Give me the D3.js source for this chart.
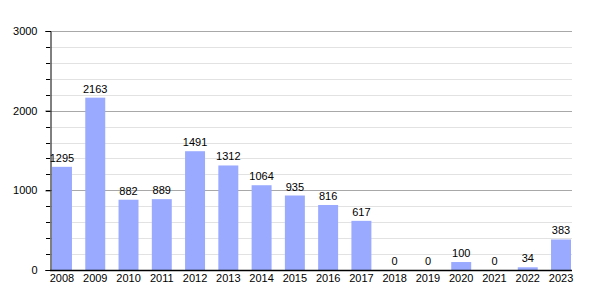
<!DOCTYPE html>
<html>
<head>
<meta charset="utf-8">
<script src="https://cdn.jsdelivr.net/npm/d3@7"></script>
<style>
  body { margin: 0; background: #fff; }
  text { font-family: "Liberation Sans", Arial, sans-serif; font-size: 11px; fill: #000; }
</style>
</head>
<body>
<svg width="600" height="300"></svg>
<script>
var years = ["2008", "2009", "2010", "2011", "2012", "2013", "2014", "2015",
             "2016", "2017", "2018", "2019", "2020", "2021", "2022", "2023"];
var counts = [1295, 2163, 882, 889, 1491, 1312, 1064, 935, 816, 617, 0, 0, 100, 0, 34, 383];
var majorTicks = [0, 1000, 2000, 3000];
var minorTicks = d3.range(0, 3001, 200);

var svg = d3.select("svg");

var x = d3.scaleBand()
    .domain(years)
    .range([52, 571])
    .paddingInner(0.4)
    .paddingOuter(0);

var y = d3.scaleLinear()
    .domain([0, 3000])
    .range([270, 31]);

// minor grid
svg.append("g")
    .selectAll("line")
    .data(minorTicks.filter(function(d) { return d % 1000 !== 0; }))
    .enter().append("line")
    .attr("x1", 50).attr("x2", 572)
    .attr("y1", function(d) { return Math.round(y(d)) + 0.5; })
    .attr("y2", function(d) { return Math.round(y(d)) + 0.5; })
    .attr("stroke", "#e2e2e2");

// major grid
svg.append("g")
    .selectAll("line")
    .data(majorTicks.filter(function(d) { return d > 0; }))
    .enter().append("line")
    .attr("x1", 50).attr("x2", 572)
    .attr("y1", function(d) { return Math.round(y(d)) + 0.5; })
    .attr("y2", function(d) { return Math.round(y(d)) + 0.5; })
    .attr("stroke", "#a8a8a8");

// bars
svg.append("g")
    .selectAll("rect")
    .data(counts)
    .enter().append("rect")
    .attr("x", function(d, i) { return x(years[i]); })
    .attr("width", x.bandwidth())
    .attr("y", function(d) { return y(d); })
    .attr("height", function(d) { return y(0) - y(d); })
    .attr("fill", "#99aaff");

// value labels
svg.append("g")
    .selectAll("text")
    .data(counts)
    .enter().append("text")
    .attr("x", function(d, i) { return x(years[i]) + x.bandwidth() / 2; })
    .attr("y", function(d) { return y(d) - 5; })
    .attr("text-anchor", "middle")
    .text(function(d) { return d; });

// y axis
var yAxis = svg.append("g")
    .attr("transform", "translate(50.5,0)")
    .call(d3.axisLeft(y).tickValues(majorTicks).tickFormat(d3.format("d")).tickSize(5).tickPadding(8));
yAxis.select(".domain").attr("stroke", "#000");
yAxis.selectAll(".tick line").attr("stroke", "#000");
yAxis.selectAll("text").attr("font-size", 11).attr("font-family", "Liberation Sans, Arial, sans-serif");

svg.append("g")
    .selectAll("line")
    .data(minorTicks)
    .enter().append("line")
    .attr("x1", 46).attr("x2", 50)
    .attr("y1", function(d) { return Math.round(y(d)) + 0.5; })
    .attr("y2", function(d) { return Math.round(y(d)) + 0.5; })
    .attr("stroke", "#000");

// x axis
var xAxis = svg.append("g")
    .attr("transform", "translate(0,270.5)")
    .call(d3.axisBottom(x).tickSize(0).tickPadding(4));
xAxis.select(".domain").attr("d", "M50,0H572").attr("stroke", "#000").attr("stroke-width", 1.5);
xAxis.selectAll("text").attr("font-size", 11).attr("font-family", "Liberation Sans, Arial, sans-serif");
</script>
</body>
</html>
